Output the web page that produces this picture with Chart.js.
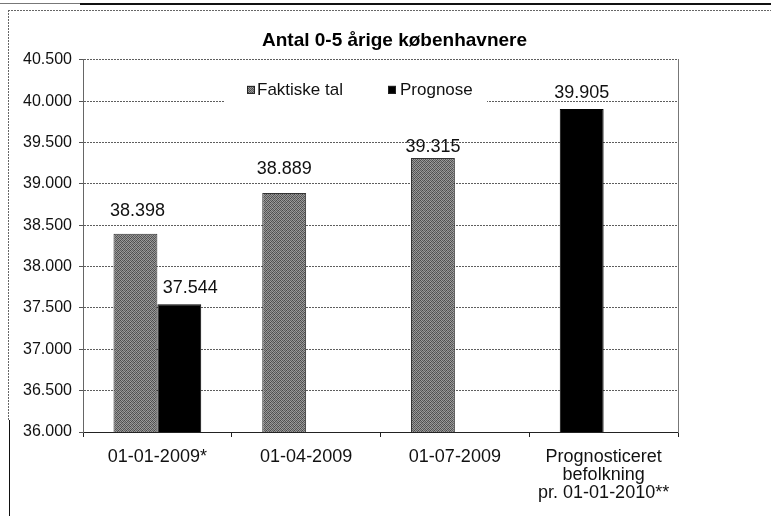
<!DOCTYPE html>
<html>
<head>
<meta charset="utf-8">
<script src="https://cdn.jsdelivr.net/npm/chart.js@4/dist/chart.umd.min.js"></script>
<style>
  html, body { margin: 0; padding: 0; background: #fff; }
  #wrap { position: relative; width: 771px; height: 516px; }
</style>
</head>
<body>
<div id="wrap"><canvas id="c" width="771" height="516"></canvas></div>
<script>
// ---- Data ----
const titel = 'Antal 0-5 årige københavnere';
const kategorier = ['01-01-2009*', '01-04-2009', '01-07-2009', ['Prognosticeret', 'befolkning', 'pr. 01-01-2010**']];
const faktiskeTal = [38398, 38889, 39315, null];
const prognose = [37544, null, null, null];
const prognose2010 = [null, null, null, 39905];
const yMin = 36000, yMax = 40500, yStep = 500;

// ---- helpers ----
const fmt = v => String(v).replace(/\B(?=(\d{3})+(?!\d))/g, '.');
const FONT = "'Liberation Sans', Arial, sans-serif";

function makePattern() {
  const c = document.createElement('canvas');
  c.width = 4; c.height = 4;
  const g = c.getContext('2d');
  const lv = [[0x4c,0x9c,0x5e,0x90],[0x92,0x58,0xa2,0x50],[0x62,0x8c,0x48,0x9a],[0x9e,0x54,0x96,0x66]];
  for (let y = 0; y < 4; y++) for (let x = 0; x < 4; x++) {
    const v = lv[y][x];
    g.fillStyle = `rgb(${v},${v},${v})`;
    g.fillRect(x, y, 1, 1);
  }
  return g.createPattern(c, 'repeat');
}
const graaMoenster = makePattern();

// label offsets (style, not data): [datasetIndex][categoryIndex] -> [dx, dyAboveBarTop]
const labelOffsets = [
  [[2, 23], [0, 24], [0, 11], [0, 0]],
  [[11, 16], [0, 0], [0, 0], [0, 0]],
  [[0, 0], [0, 0], [0, 0], [0, 16]]
];

const frame = {
  id: 'frame',
  beforeDraw(chart) {
    const ctx = chart.ctx;
    ctx.save();
    ctx.fillStyle = '#fff';
    ctx.fillRect(0, 0, chart.width, chart.height);
    ctx.fillStyle = '#111';
    ctx.fillRect(80, 3, 691, 2);
    ctx.fillStyle = '#777';
    ctx.fillRect(0, 3, 80, 1);
    ctx.strokeStyle = '#666';
    ctx.lineWidth = 1;
    ctx.setLineDash([2, 1]);
    ctx.beginPath();
    ctx.moveTo(8.5, 10); ctx.lineTo(8.5, 420);
    ctx.moveTo(8, 10.5); ctx.lineTo(771, 10.5);
    ctx.stroke();
    ctx.setLineDash([]);
    ctx.strokeStyle = '#111';
    ctx.beginPath();
    ctx.moveTo(9.5, 420); ctx.lineTo(9.5, 516);
    ctx.stroke();
    ctx.restore();
  }
};

const valueLabels = {
  id: 'valueLabels',
  afterDatasetsDraw(chart) {
    const ctx = chart.ctx;
    ctx.save();
    ctx.font = `18px ${FONT}`;
    ctx.fillStyle = '#111';
    ctx.textAlign = 'center';
    ctx.textBaseline = 'middle';
    chart.data.datasets.forEach((ds, di) => {
      const meta = chart.getDatasetMeta(di);
      meta.data.forEach((el, i) => {
        const v = ds.data[i];
        if (v === null || v === undefined) return;
        const off = labelOffsets[di][i];
        ctx.fillText(fmt(v), el.x + off[0], el.y - off[1]);
      });
    });
    ctx.restore();
  }
};

const ownLegend = {
  id: 'ownLegend',
  afterDraw(chart) {
    const a = chart.chartArea;
    const ctx = chart.ctx;
    ctx.save();
    ctx.fillStyle = '#fff';
    ctx.fillRect(a.left + 142, a.top + 13, 262, 34);
    const items = [
      { ds: chart.data.datasets[0], sx: 164, tx: 174 },
      { ds: chart.data.datasets[1], sx: 305, tx: 317 }
    ];
    ctx.font = `17px ${FONT}`;
    ctx.textBaseline = 'middle';
    ctx.textAlign = 'left';
    const cy = a.top + 30;
    items.forEach(it => {
      ctx.fillStyle = it.ds.backgroundColor;
      ctx.fillRect(a.left + it.sx, cy - 4, 8, 8);
      ctx.strokeStyle = '#222';
      ctx.lineWidth = 1;
      ctx.strokeRect(a.left + it.sx + 0.5, cy - 3.5, 7, 7);
      ctx.fillStyle = '#111';
      ctx.fillText(it.ds.label, a.left + it.tx, cy);
    });
    ctx.restore();
  }
};

new Chart(document.getElementById('c'), {
  type: 'bar',
  data: {
    labels: kategorier,
    datasets: [
      { label: 'Faktiske tal', data: faktiskeTal, stack: 'venstre', backgroundColor: graaMoenster, borderColor: '#333', borderWidth: 1 },
      { label: 'Prognose', data: prognose, stack: 'hoejre', backgroundColor: '#000', borderColor: '#000', borderWidth: 1 },
      { label: 'Prognose', data: prognose2010, stack: 'venstre', backgroundColor: '#000', borderColor: '#000', borderWidth: 1 }
    ]
  },
  options: {
    responsive: false,
    animation: false,
    categoryPercentage: 0.59,
    barPercentage: 1,
    layout: { padding: { left: 18, right: 0, top: 0, bottom: 0 } },
    plugins: {
      legend: { display: false },
      tooltip: { enabled: false },
      title: {
        display: true,
        text: titel,
        color: '#000',
        font: { family: FONT, size: 19, weight: 'bold', lineHeight: 1.1 },
        padding: { top: 30, bottom: 9 }
      }
    },
    scales: {
      x: {
        grid: { display: true, drawOnChartArea: false, offset: true, tickLength: 5, color: '#222' },
        border: { display: true, color: '#222' },
        ticks: { color: '#111', padding: 11, maxRotation: 0, autoSkip: false, font: { family: FONT, size: 18, lineHeight: 1.0 } },
        afterFit(s) { s.height = 84; }
      },
      y: {
        min: yMin, max: yMax,
        grid: { color: '#5e5e5e', tickLength: 4, tickColor: '#555' },
        border: { display: true, color: '#666', dash: [2, 1] },
        ticks: { stepSize: yStep, color: '#111', padding: 7, font: { family: FONT, size: 16 }, callback: v => fmt(v) },
        afterFit(s) { s.width = 65; }
      },
      yHoejre: {
        position: 'right',
        display: true,
        min: yMin, max: yMax,
        grid: { display: false },
        ticks: { display: false },
        border: { display: true, color: '#777', dash: [2, 2] },
        afterFit(s) { s.width = 93; }
      }
    }
  },
  plugins: [frame, valueLabels, ownLegend]
});
</script>
</body>
</html>
